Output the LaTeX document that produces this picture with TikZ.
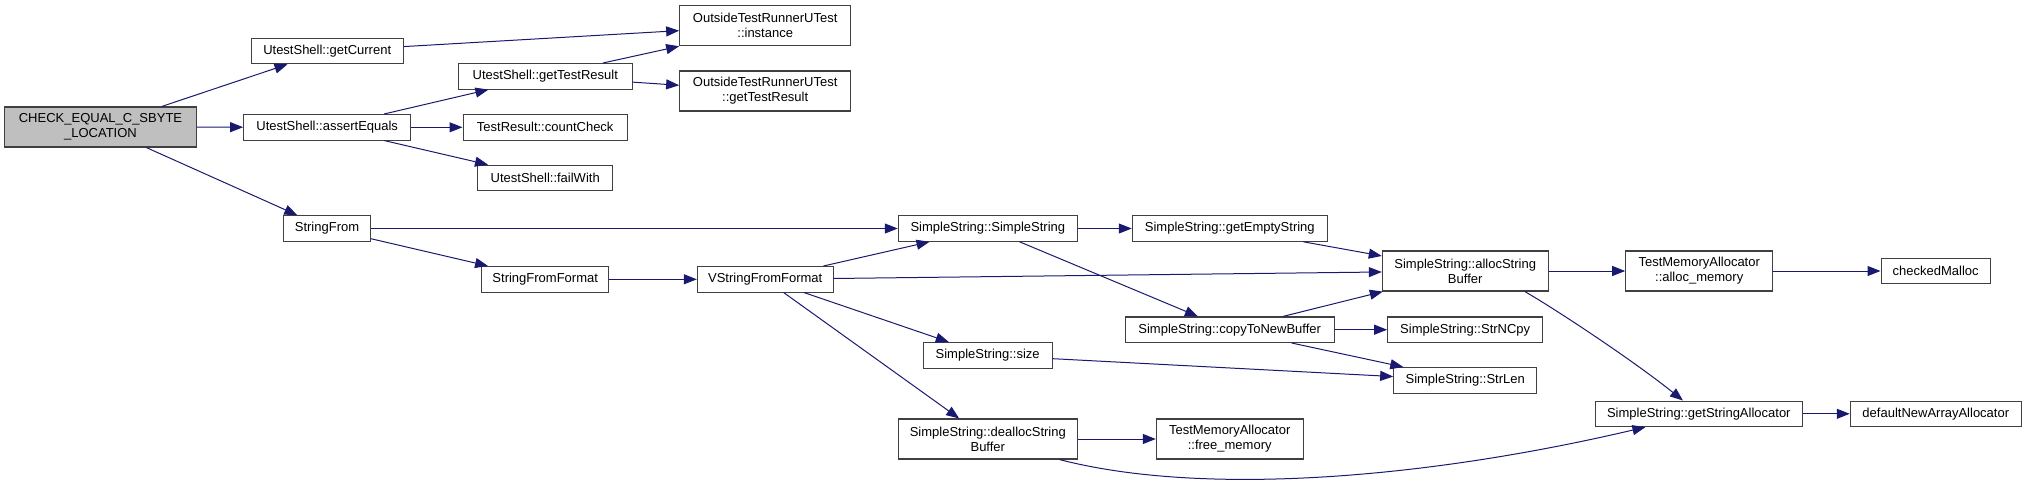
\documentclass[tikz,border=0pt]{standalone}
\usepackage{fontspec}
\setmainfont{Liberation Sans}
\usetikzlibrary{arrows.meta}
\definecolor{edgec}{HTML}{191970}
\definecolor{boxc}{HTML}{404040}
\definecolor{rootfill}{HTML}{BFBFBF}
\begin{document}
\begin{tikzpicture}[x=1pt,y=-1pt,
  fn/.style={draw=boxc,line width=1.1pt,fill=white,inner sep=0pt,minimum height=25.5pt,align=center,font=\fontsize{13}{15}\selectfont},
  fn2/.style={fn,minimum height=40pt},
  call/.style={draw=edgec,line width=1pt,-{Triangle[length=13pt,width=10pt]}}]
\useasboundingbox (0,0) rectangle (2027,485);
% nodes
\node[fn2,fill=rootfill,minimum width=191.6pt] (check) at (100.5,127) {CHECK\_EQUAL\_C\_SBYTE\\\_LOCATION};
\node[fn,minimum width=152.3pt] (getCurrent) at (327.2,51) {UtestShell::getCurrent};
\node[fn,minimum width=167pt] (assertEquals) at (327.2,127.3) {UtestShell::assertEquals};
\node[fn,minimum width=86.6pt] (stringFrom) at (327,228.5) {StringFrom};
\node[fn2,minimum width=171pt] (instance) at (765.2,25.7) {OutsideTestRunnerUTest\\::instance};
\node[fn2,minimum width=171pt] (otruResult) at (765.2,91) {OutsideTestRunnerUTest\\::getTestResult};
\node[fn,minimum width=174pt] (getTestResult) at (545.3,76.3) {UtestShell::getTestResult};
\node[fn,minimum width=164.3pt] (countCheck) at (545.2,127.3) {TestResult::countCheck};
\node[fn,minimum width=135pt] (failWith) at (545.2,178) {UtestShell::failWith};
\node[fn,minimum width=127pt] (sff) at (545.2,279.3) {StringFromFormat};
\node[fn,minimum width=135.7pt] (vsff) at (765.2,279.3) {VStringFromFormat};
\node[fn,minimum width=179pt] (ss) at (987.8,228.5) {SimpleString::SimpleString};
\node[fn,minimum width=128.7pt] (size) at (987.7,355.3) {SimpleString::size};
\node[fn2,minimum width=179pt] (dealloc) at (987.8,439) {SimpleString::deallocString\\Buffer};
\node[fn,minimum width=195pt] (empty) at (1229.8,228.5) {SimpleString::getEmptyString};
\node[fn,minimum width=209.3pt] (copy) at (1229.7,329.7) {SimpleString::copyToNewBuffer};
\node[fn2,minimum width=146.7pt] (free) at (1229.7,439) {TestMemoryAllocator\\::free\_memory};
\node[fn2,minimum width=165.7pt] (alloc) at (1465.2,271) {SimpleString::allocString\\Buffer};
\node[fn,minimum width=155pt] (strncpy) at (1465.2,329.7) {SimpleString::StrNCpy};
\node[fn,minimum width=143pt] (strlen) at (1465.2,380.3) {SimpleString::StrLen};
\node[fn2,minimum width=147pt] (allocmem) at (1699.2,271) {TestMemoryAllocator\\::alloc\_memory};
\node[fn,minimum width=207pt] (gsa) at (1698.8,413.8) {SimpleString::getStringAllocator};
\node[fn,minimum width=109.3pt] (checked) at (1935.7,271) {checkedMalloc};
\node[fn,minimum width=171pt] (dnaa) at (1935.8,413.8) {defaultNewArrayAllocator};
% edges
\draw[call] (check) -- (getCurrent);
\draw[call] (check) -- (assertEquals);
\draw[call] (check) -- (stringFrom);
\draw[call] (getCurrent) -- (instance);
\draw[call] (assertEquals) -- (getTestResult);
\draw[call] (assertEquals) -- (countCheck);
\draw[call] (assertEquals) -- (failWith);
\draw[call] (getTestResult.13) -- (instance.south west);
\draw[call] (getTestResult) -- (otruResult);
\draw[call] (stringFrom) -- (ss);
\draw[call] (stringFrom) -- (sff);
\draw[call] (sff) -- (vsff);
\draw[call] (vsff) -- (ss);
\draw[call] (vsff) -- (alloc);
\draw[call] (vsff) -- (size);
\draw[call] (vsff) -- (dealloc);
\draw[call] (ss) -- (empty);
\draw[call] (ss) -- (copy);
\draw[call] (empty) -- (alloc);
\draw[call] (copy) -- (alloc);
\draw[call] (copy) -- (strncpy);
\draw[call] (copy) -- (strlen);
\draw[call] (size) -- (strlen);
\draw[call] (dealloc) -- (free);
\draw[call] (dealloc.-16) .. controls (1200,496) and (1420,480) .. (gsa.194);
\draw[call] (alloc) -- (allocmem);
\draw[call] (alloc.-19) .. controls (1560,312) and (1635,362) .. (gsa.140);
\draw[call] (allocmem) -- (checked);
\draw[call] (gsa) -- (dnaa);
\end{tikzpicture}
\end{document}
